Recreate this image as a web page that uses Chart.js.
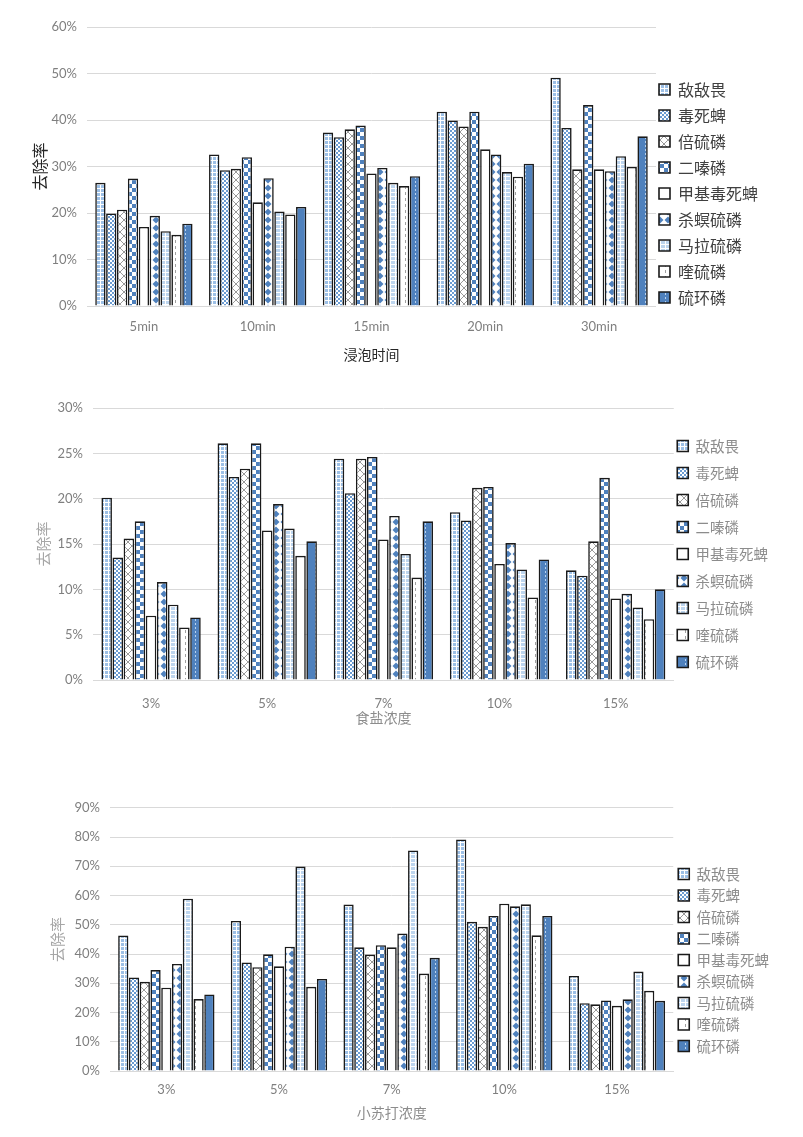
<!DOCTYPE html>
<html>
<head>
<meta charset="utf-8">
<script src="https://cdn.jsdelivr.net/npm/chart.js@4.4.1/dist/chart.umd.min.js"></script>
<style>
  body { margin: 0; background: #fff; width: 803px; height: 1137px; position: relative; overflow: hidden; }
  .box { position: absolute; left: 0; width: 803px; }
</style>
</head>
<body>
<div class="box" style="top:0;height:370px"><canvas id="soakChart"></canvas></div>
<div class="box" style="top:390px;height:340px"><canvas id="saltChart"></canvas></div>
<div class="box" style="top:790px;height:347px"><canvas id="sodaChart"></canvas></div>
<script>
const seriesNames = ['敌敌畏', '毒死蜱', '倍硫磷', '二嗪磷', '甲基毒死蜱', '杀螟硫磷', '马拉硫磷', '喹硫磷', '硫环磷'];

const soakLabels = ['5min', '10min', '15min', '20min', '30min'];
const saltLabels = ['3%', '5%', '7%', '10%', '15%'];
const sodaLabels = ['3%', '5%', '7%', '10%', '15%'];

// removal rate (%), one row per pesticide, same order as seriesNames
const soakRates = [
  [26.5, 32.6, 37.3, 41.8, 49.1],
  [19.9, 29.2, 36.3, 39.9, 38.3],
  [20.7, 29.5, 38.0, 38.6, 29.4],
  [27.4, 32.0, 38.8, 41.8, 43.2],
  [17.0, 22.3, 28.5, 33.7, 29.4],
  [19.4, 27.5, 29.7, 32.6, 29.0],
  [16.1, 20.3, 26.5, 28.8, 32.2],
  [15.3, 19.7, 25.8, 27.8, 29.9],
  [17.7, 21.3, 27.9, 30.6, 36.5]
];

const saltRates = [
  [20.1, 26.1, 24.4, 18.5, 12.1],
  [13.5, 22.4, 20.6, 17.6, 11.5],
  [15.6, 23.3, 24.4, 21.2, 15.3],
  [17.5, 26.1, 24.6, 21.3, 22.3],
  [7.1, 16.5, 15.5, 12.8, 9.0],
  [10.8, 19.4, 18.1, 15.1, 9.5],
  [8.3, 16.7, 13.9, 12.2, 8.0],
  [5.8, 13.7, 11.3, 9.1, 6.7],
  [6.9, 15.3, 17.5, 13.3, 10.0]
];

const sodaRates = [
  [46.3, 51.3, 56.9, 79.2, 32.5],
  [32.0, 37.1, 42.3, 51.0, 23.2],
  [30.5, 35.5, 39.8, 49.3, 22.8],
  [34.5, 39.9, 43.0, 53.0, 24.1],
  [28.5, 35.8, 42.3, 57.2, 22.3],
  [36.6, 42.5, 47.0, 56.3, 24.5],
  [58.9, 69.9, 75.4, 57.0, 34.0],
  [24.6, 28.8, 33.3, 46.4, 27.4],
  [26.2, 31.5, 38.7, 53.0, 24.0]
];

// fill patterns, Excel style
function tile(w, h, draw) {
  const c = document.createElement('canvas');
  c.width = w; c.height = h;
  const g = c.getContext('2d');
  draw(g);
  return document.createElement('canvas').getContext('2d').createPattern(c, 'repeat');
}

const BLUE = '#4f81bd';
const patterns = [
  tile(4, 4, g => { g.fillStyle = '#fff'; g.fillRect(0, 0, 4, 4); g.fillStyle = '#9dc0e6'; g.fillRect(1, 1, 3, 3); }),
  tile(4, 4, g => { g.fillStyle = '#fff'; g.fillRect(0, 0, 4, 4); g.fillStyle = '#6a9bd1'; g.fillRect(0, 0, 2, 2); g.fillRect(2, 2, 2, 2); }),
  tile(8, 8, g => {
    g.fillStyle = '#fff'; g.fillRect(0, 0, 8, 8);
    g.strokeStyle = '#9a9a9a'; g.lineWidth = 1;
    g.beginPath(); g.moveTo(0, 0); g.lineTo(8, 8); g.moveTo(8, 0); g.lineTo(0, 8); g.stroke();
  }),
  tile(8, 8, g => { g.fillStyle = '#fff'; g.fillRect(0, 0, 8, 8); g.fillStyle = BLUE; g.fillRect(0, 0, 4, 4); g.fillRect(4, 4, 4, 4); }),
  '#ffffff',
  tile(8, 8, g => {
    g.fillStyle = '#fff'; g.fillRect(0, 0, 8, 8);
    g.fillStyle = BLUE;
    g.beginPath(); g.moveTo(4, 0.5); g.lineTo(7.5, 4); g.lineTo(4, 7.5); g.lineTo(0.5, 4); g.closePath(); g.fill();
  }),
  tile(5, 4, g => { g.fillStyle = '#fff'; g.fillRect(0, 0, 5, 4); g.fillStyle = '#bdd5ee'; g.fillRect(1, 1, 4, 3); }),
  tile(10, 6, g => { g.fillStyle = '#fff'; g.fillRect(0, 0, 10, 6); g.fillStyle = '#a0a0a0'; g.fillRect(5, 0, 1, 3); }),
  tile(10, 4, g => { g.fillStyle = BLUE; g.fillRect(0, 0, 10, 4); g.fillStyle = '#b8d2ee'; g.fillRect(5, 1, 1, 2); })
];

function buildChart(id, labels, rows, o) {
  new Chart(document.getElementById(id), {
    type: 'bar',
    data: {
      labels: labels,
      datasets: rows.map((r, i) => ({
        label: seriesNames[i],
        data: r,
        backgroundColor: patterns[i],
        borderColor: '#1a1a1a',
        borderWidth: 1.6,
        barPercentage: 0.95,
        categoryPercentage: 0.86
      }))
    },
    options: {
      responsive: true,
      maintainAspectRatio: false,
      animation: false,
      layout: { padding: { top: o.padTop, right: o.padRight, left: 0, bottom: 0 } },
      plugins: {
        tooltip: { enabled: false },
        legend: {
          position: 'right',
          align: 'center',
          labels: {
            boxWidth: 11,
            boxHeight: 11,
            padding: o.legendPad,
            color: o.legendColor,
            font: { family: '"Noto Sans CJK SC", sans-serif', size: o.legendSize }
          }
        }
      },
      scales: {
        x: {
          grid: { display: false, drawTicks: false },
          border: { display: true, color: '#d9d9d9' },
          ticks: { color: '#7f7f7f', padding: o.xTickPad, font: { family: 'Lato, sans-serif', size: 13 } },
          title: {
            display: true, text: o.xTitle, color: o.titleColor,
            padding: { top: 0, bottom: o.xTitlePad },
            font: { family: '"Noto Sans CJK SC", sans-serif', size: 14 }
          },
          afterFit: s => { s.height = o.xHeight; }
        },
        y: {
          min: 0, max: o.yMax,
          grid: { color: '#d9d9d9', drawTicks: false },
          border: { display: false },
          ticks: {
            stepSize: o.yStep, padding: 10, color: '#7f7f7f',
            font: { family: 'Lato, sans-serif', size: 13 },
            callback: v => v + '%'
          },
          title: {
            display: true, text: '去除率', color: o.yTitleColor,
            padding: { top: o.yTitlePad, bottom: 0 },
            font: { family: '"Noto Sans CJK SC", sans-serif', size: o.yTitleSize }
          },
          afterFit: s => { s.width = o.plotLeft; }
        }
      }
    },
    plugins: [{
      // nudge the legend block to where the original sits
      id: 'legendNudge',
      afterLayout(chart) {
        const lg = chart.legend;
        lg.left += o.legendDx; lg.right += o.legendDx;
        lg.top += o.legendDy; lg.bottom += o.legendDy;
      }
    }]
  });
}

buildChart('soakChart', soakLabels, soakRates, {
  padTop: 27, padRight: 28, legendPad: 10, legendSize: 16, legendColor: '#404040',
  legendDx: -7, legendDy: -5,
  xTitle: '浸泡时间', titleColor: '#262626', xTickPad: 13, xTitlePad: 7, xHeight: 64,
  yMax: 60, yStep: 10, yTitleColor: '#262626', yTitleSize: 16, yTitlePad: 30, plotLeft: 87
});

buildChart('saltChart', saltLabels, saltRates, {
  padTop: 18, padRight: 16, legendPad: 12.5, legendSize: 14.5, legendColor: '#8c8c8c',
  legendDx: -9, legendDy: -15,
  xTitle: '食盐浓度', titleColor: '#8c8c8c', xTickPad: 16, xTitlePad: 4, xHeight: 50,
  yMax: 30, yStep: 5, yTitleColor: '#a6a6a6', yTitleSize: 15, yTitlePad: 34, plotLeft: 93
});

buildChart('sodaChart', sodaLabels, sodaRates, {
  padTop: 17, padRight: 22, legendPad: 7, legendSize: 14.5, legendColor: '#8c8c8c',
  legendDx: -2, legendDy: -12,
  xTitle: '小苏打浓度', titleColor: '#8c8c8c', xTickPad: 11, xTitlePad: 16, xHeight: 66,
  yMax: 90, yStep: 10, yTitleColor: '#a6a6a6', yTitleSize: 15, yTitlePad: 48, plotLeft: 110
});
</script>
</body>
</html>
